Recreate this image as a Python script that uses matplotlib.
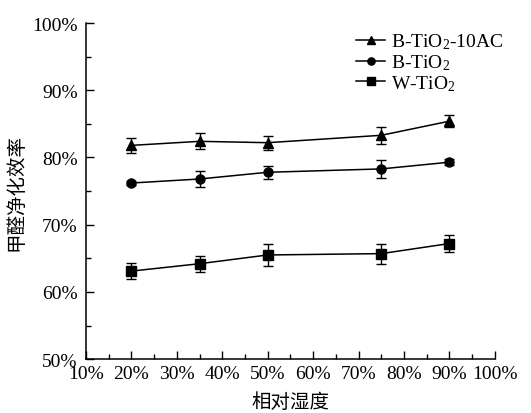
import matplotlib
matplotlib.use("Agg")
from matplotlib import pyplot as plt
from matplotlib.ticker import MultipleLocator, FuncFormatter

# relative humidity (%)
humidity = [20, 35, 50, 75, 90]

# formaldehyde removal efficiency (%) and error bars
ac_eff = [81.8, 82.4, 82.2, 83.3, 85.4]
ac_err = [1.1, 1.2, 1.05, 1.3, 0.9]

b_eff = [76.2, 76.8, 77.8, 78.3, 79.3]
b_err = [0.3, 1.2, 0.95, 1.35, 0.4]

w_eff = [63.1, 64.2, 65.5, 65.7, 67.2]
w_err = [1.15, 1.2, 1.6, 1.5, 1.25]

labels = [r'B-TiO$_2$-10AC', r'B-TiO$_2$', r'W-TiO$_2$']

plt.rcParams['font.family'] = ['Liberation Serif', 'Noto Sans CJK SC']
plt.rcParams['mathtext.fontset'] = 'custom'
plt.rcParams['mathtext.rm'] = 'Liberation Serif'
plt.rcParams['mathtext.it'] = 'Liberation Serif:italic'
plt.rcParams['font.size'] = 14


def main():
    fig = plt.figure(figsize=(5.31, 4.14), dpi=100)
    ax = fig.add_axes([0.162, 0.130, 0.770, 0.812])

    series = [(ac_eff, ac_err, '^'), (b_eff, b_err, 'o'), (w_eff, w_err, 's')]
    for (eff, err, mk), lab in zip(series, labels):
        ax.errorbar(humidity, eff, yerr=err, color='black', marker=mk,
                    markersize=6.5, linewidth=1.1, elinewidth=1.0,
                    capsize=3.5, capthick=1.0, label=lab)

    ax.set_xlim(10, 100)
    ax.set_ylim(50, 100)
    ax.xaxis.set_major_locator(MultipleLocator(10))
    ax.xaxis.set_minor_locator(MultipleLocator(5))
    ax.yaxis.set_major_locator(MultipleLocator(10))
    ax.yaxis.set_minor_locator(MultipleLocator(5))
    pct = FuncFormatter(lambda v, p: '%d%%' % round(v))
    ax.xaxis.set_major_formatter(pct)
    ax.yaxis.set_major_formatter(pct)

    ax.tick_params(which='major', direction='in', length=6, width=1)
    ax.tick_params(which='minor', direction='in', length=3.5, width=1)
    ax.tick_params(axis='x', pad=4.5)
    ax.tick_params(axis='y', pad=6)

    ax.spines['top'].set_visible(False)
    ax.spines['right'].set_visible(False)
    for s in ('left', 'bottom'):
        ax.spines[s].set_linewidth(1.1)

    ax.set_xlabel('相对湿度', fontsize=14, labelpad=7)
    ax.set_ylabel('甲醛净化效率', fontsize=14, labelpad=5)

    handles, labs = ax.get_legend_handles_labels()
    handles = [h[0] for h in handles]
    ax.legend(handles, labs, loc='upper right', frameon=False, fontsize=14,
              handlelength=1.5, handletextpad=0.3, labelspacing=0.05,
              markerscale=0.8,
              bbox_to_anchor=(1.04, 0.997), borderaxespad=0)

    fig.savefig('out.png', dpi=100)


if __name__ == '__main__':
    main()
